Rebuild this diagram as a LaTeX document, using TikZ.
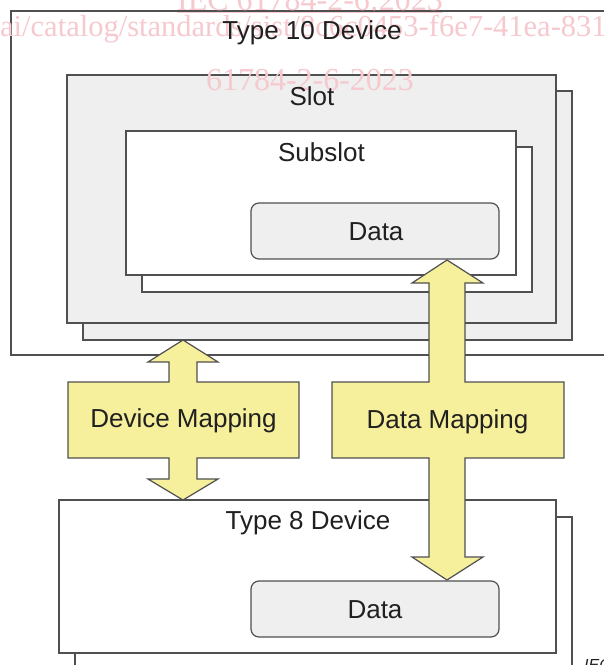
\documentclass[tikz,border=0pt]{standalone}
\usepackage{fontspec}
\setmainfont{Liberation Sans}
\newfontfamily\wmfont{Liberation Serif}
\definecolor{linec}{HTML}{505050}
\definecolor{txt}{HTML}{202020}
\definecolor{boxgray}{HTML}{EFEFEF}
\definecolor{mapfill}{HTML}{F6EF9C}
\definecolor{wmc}{HTML}{F6C9CF}
\begin{document}
\begin{tikzpicture}[x=1pt,y=-1pt,
  box/.style={draw=linec, line width=1.2pt, anchor=north west, inner sep=0pt, outer sep=0pt},
  databox/.style={box, fill=boxgray, rounded corners=8pt, minimum width=248pt, minimum height=56pt},
  lbl/.style={font=\fontsize{26}{30}\selectfont, text=txt, inner sep=0pt},
  wm/.style={font=\wmfont\fontsize{32}{36}\selectfont, text=wmc, inner sep=0pt},
  mapshape/.style={draw=linec, line width=1.2pt, fill=mapfill, line join=miter}]
\useasboundingbox (0,0) rectangle (604,665);
\clip (0,0) rectangle (604,665);
% Type 10 device
\node[box, fill=white, minimum width=620pt, minimum height=344pt] (t10) at (11,11) {};
% Slot
\node[box, fill=boxgray, minimum width=489pt, minimum height=249pt] (slotb) at (83,91) {};
\node[box, fill=boxgray, minimum width=489pt, minimum height=248pt] (slot) at (67,75) {};
% Subslot
\node[box, fill=white, minimum width=390pt, minimum height=145pt] (subb) at (142,147) {};
\node[box, fill=white, minimum width=390pt, minimum height=144pt] (sub) at (126,131) {};
% Data top
\node[databox] (data1) at (251,203) {};
% Type 8 device
\node[box, fill=white, minimum width=497pt, minimum height=200pt] (t8b) at (75,517) {};
\node[box, fill=white, minimum width=497pt, minimum height=153pt] (t8) at (59,500) {};
% Data bottom
\node[databox] (data2) at (251,581) {};
% watermark
\node[wm, anchor=base] (wm1) at (310,10) {\underline{IEC 61784-2-6:2023}};
\node[wm, font=\wmfont\fontsize{30.5}{34}\selectfont, anchor=base west] (wm2) at (0,36) {ai/catalog/standards/sist/8c6c0453-f6e7-41ea-831};
\node[wm, anchor=base] (wm3) at (310,90) {61784-2-6-2023};
% labels
\node[lbl] (lt10) at (312,33) {Type 10 Device};
\node[lbl] (lslot) at (312,96) {Slot};
\node[lbl] (lsub) at (321.5,152) {Subslot};
\node[lbl] (ld1) at (376,232) {Data};
\node[lbl] (lt8) at (308,523) {Type 8 Device};
\node[lbl] (ld2) at (375,609.5) {Data};
% Device mapping arrow
\draw[mapshape] (183,340) -- (218,362) -- (197,362) -- (197,382) -- (299,382) -- (299,458)
  -- (197,458) -- (197,479) -- (218,479) -- (183,500) -- (148,479) -- (169,479) -- (169,458)
  -- (68,458) -- (68,382) -- (169,382) -- (169,362) -- (148,362) -- cycle;
\node[lbl] (ldm) at (183.5,421) {Device Mapping};
% Data mapping arrow
\draw[mapshape] (447,260) -- (483,283) -- (465,283) -- (465,382) -- (564,382) -- (564,458)
  -- (465,458) -- (465,557) -- (483,557) -- (447,580) -- (412,557) -- (429,557) -- (429,458)
  -- (332,458) -- (332,382) -- (429,382) -- (429,283) -- (412,283) -- cycle;
\node[lbl] (ldam) at (447.5,421.5) {Data Mapping};
% figure tag
\node[anchor=north west, font=\itshape\fontsize{16}{18}\selectfont, text=txt, inner sep=0pt] (iec) at (584,659) {IEC};
\end{tikzpicture}
\end{document}
